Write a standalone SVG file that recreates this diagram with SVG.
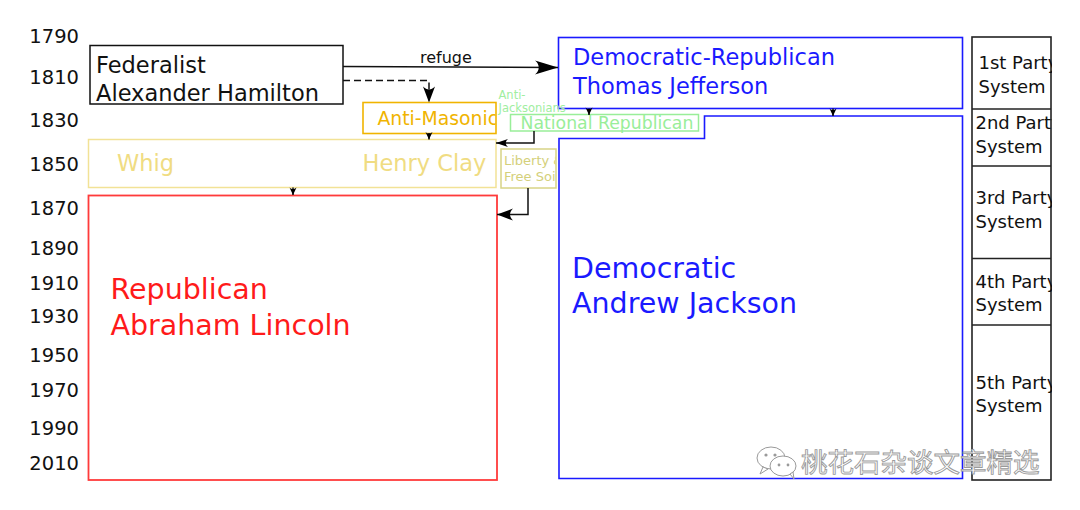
<svg xmlns="http://www.w3.org/2000/svg" width="1080" height="510" viewBox="0 0 1080 510">
<style>
text{font-family:"DejaVu Sans","Liberation Sans",sans-serif}
.yr{font-size:19.5px;fill:#111;text-anchor:end}
.big{font-size:28.5px}
.mid{font-size:22.5px}
.ps{font-size:18px;fill:#111}
.line{fill:none;stroke:#111;stroke-width:1.5}
.wm{font-family:"Noto Sans CJK SC",sans-serif;font-size:26.5px;fill:#fff;stroke:#9a9a9a;stroke-width:0.9}
</style>
<defs>
<marker id="aBig" markerUnits="userSpaceOnUse" viewBox="-24 -8 25 16" markerWidth="25" markerHeight="16" refX="0" refY="0" orient="auto"><path d="M0,0 L-23,-7 C-18,-3 -18,3 -23,7 Z" fill="#000"/></marker>
<marker id="aMed" markerUnits="userSpaceOnUse" viewBox="-17 -7 18 14" markerWidth="18" markerHeight="14" refX="0" refY="0" orient="auto"><path d="M0,0 L-16,-6 C-12,-2 -12,2 -16,6 Z" fill="#000"/></marker>
<marker id="aSm" markerUnits="userSpaceOnUse" viewBox="-13 -5 14 10" markerWidth="14" markerHeight="10" refX="0" refY="0" orient="auto"><path d="M0,0 L-12,-4 C-9,-1.5 -9,1.5 -12,4 Z" fill="#000"/></marker>
<marker id="aTiny" markerUnits="userSpaceOnUse" viewBox="-8 -4 9 8" markerWidth="9" markerHeight="8" refX="0" refY="0" orient="auto"><path d="M0,0 L-7.5,-3.5 C-5.5,-1 -5.5,1 -7.5,3.5 Z" fill="#000"/></marker>
<clipPath id="cAM"><rect x="363" y="102" width="132.5" height="32"/></clipPath>
<clipPath id="cLib"><rect x="501" y="149" width="54.5" height="39"/></clipPath>
<clipPath id="cPS"><rect x="972" y="37" width="80" height="443"/></clipPath>
</defs>

<g id="years">
<text class="yr" x="79" y="43">1790</text>
<text class="yr" x="79" y="84">1810</text>
<text class="yr" x="79" y="127">1830</text>
<text class="yr" x="79" y="171">1850</text>
<text class="yr" x="79" y="215">1870</text>
<text class="yr" x="79" y="255">1890</text>
<text class="yr" x="79" y="290">1910</text>
<text class="yr" x="79" y="323">1930</text>
<text class="yr" x="79" y="362">1950</text>
<text class="yr" x="79" y="397">1970</text>
<text class="yr" x="79" y="435">1990</text>
<text class="yr" x="79" y="470">2010</text>
</g>

<g id="federalist">
<rect x="90" y="45.5" width="253" height="58.5" fill="#fff" stroke="#111" stroke-width="1.5"/>
<text class="mid" x="96" y="72.5" fill="#111">Federalist</text>
<text class="mid" x="96" y="101" fill="#111">Alexander Hamilton</text>
</g>

<g id="democratic-republican">
<rect x="558.5" y="37.5" width="404" height="71" fill="#fff" stroke="#1a1aff" stroke-width="1.6"/>
<text class="mid" x="573" y="65" fill="#1a1aff">Democratic-Republican</text>
<text class="mid" x="573" y="93.5" fill="#1a1aff">Thomas Jefferson</text>
</g>

<g id="anti-masonic">
<rect x="363" y="102.5" width="133" height="31" fill="#fff" stroke="#f0b400" stroke-width="1.6"/>
<text x="377.5" y="125" font-size="18.8" fill="#f0b400" clip-path="url(#cAM)">Anti-Masonic</text>
</g>

<g id="anti-jacksonians">
<text x="498.5" y="99" font-size="11.5" fill="#a0eea0">Anti-</text>
<text x="498.5" y="112" font-size="11.5" fill="#a0eea0">Jacksonians</text>
</g>

<g id="national-republican">
<rect x="510.5" y="114.5" width="188" height="16.5" fill="none" stroke="#99ee99" stroke-width="1.5"/>
<text x="520.5" y="128.5" font-size="17.3" fill="#99ee99">National Republican</text>
</g>

<g id="whig">
<rect x="88.5" y="139.5" width="407.5" height="48" fill="#fff" stroke="#f2e296" stroke-width="1.5"/>
<text class="mid" x="117" y="171" fill="#f0dc82">Whig</text>
<text class="mid" x="362.5" y="171" fill="#f0dc82">Henry Clay</text>
</g>

<g id="liberty-free-soil">
<rect x="501" y="149" width="55" height="39" fill="#fff" stroke="#d8d486" stroke-width="1.5"/>
<g clip-path="url(#cLib)">
<text x="504" y="165" font-size="13" fill="#d4d07a">Liberty &amp;</text>
<text x="504" y="181" font-size="13" fill="#d4d07a">Free Soil</text>
</g>
</g>

<g id="republican">
<rect x="88.5" y="195.5" width="408.5" height="284.5" fill="#fff" stroke="#ff3b3b" stroke-width="1.8"/>
<text class="big" x="110.5" y="299" fill="#ff1a1a">Republican</text>
<text class="big" x="110.5" y="335" fill="#ff1a1a">Abraham Lincoln</text>
</g>

<g id="democratic">
<path d="M559,138.5 H704.5 V116 H962.5 V478.5 H559 Z" fill="#fff" stroke="#1a1aff" stroke-width="1.6"/>
<text class="big" x="572" y="277.5" fill="#1a1aff">Democratic</text>
<text class="big" x="572" y="313" fill="#1a1aff">Andrew Jackson</text>
</g>

<g id="party-systems">
<rect x="972" y="37" width="79" height="443" fill="#fff" stroke="#222" stroke-width="1.6"/>
<line x1="972" y1="109" x2="1051" y2="109" stroke="#222" stroke-width="1.6"/>
<line x1="972" y1="166" x2="1051" y2="166" stroke="#222" stroke-width="1.6"/>
<line x1="972" y1="258.5" x2="1051" y2="258.5" stroke="#222" stroke-width="1.6"/>
<line x1="972" y1="325" x2="1051" y2="325" stroke="#222" stroke-width="1.6"/>
<g clip-path="url(#cPS)">
<text class="ps" x="978.5" y="69">1st Party</text>
<text class="ps" x="978.5" y="92.5">System</text>
<text class="ps" x="975.5" y="129">2nd Party</text>
<text class="ps" x="975.5" y="152.5">System</text>
<text class="ps" x="975.5" y="204">3rd Party</text>
<text class="ps" x="975.5" y="227.5">System</text>
<text class="ps" x="975.5" y="287.5">4th Party</text>
<text class="ps" x="975.5" y="311">System</text>
<text class="ps" x="975.5" y="388.5">5th Party</text>
<text class="ps" x="975.5" y="412">System</text>
</g>
</g>

<g id="connectors">
<line class="line" x1="343" y1="66.5" x2="558" y2="67.5" marker-end="url(#aBig)"/>
<text x="420" y="63" font-size="16" fill="#111">refuge</text>
<path class="line" d="M343,80.5 H429 V102.5" stroke-dasharray="7,4" marker-end="url(#aMed)"/>
<line class="line" x1="429" y1="133" x2="429" y2="139.5" marker-end="url(#aTiny)"/>
<line class="line" x1="589" y1="108.5" x2="589" y2="115" marker-end="url(#aTiny)"/>
<line class="line" x1="833" y1="108.5" x2="833" y2="116" marker-end="url(#aTiny)"/>
<line class="line" x1="293" y1="187.5" x2="293" y2="195" marker-end="url(#aTiny)"/>
<path class="line" d="M534,131 V143 H496" marker-end="url(#aSm)"/>
<path class="line" d="M528,188 V214.5 H497" marker-end="url(#aMed)"/>
</g>

<g id="watermark">
<g fill="#fff" stroke="#9a9a9a" stroke-width="1">
<ellipse cx="771" cy="458" rx="14" ry="11"/>
<path d="M763,467 L760,474 L768,469 Z"/>
<ellipse cx="783" cy="466" rx="13" ry="10"/>
<path d="M790,474 L794,479 L793,472 Z"/>
</g>
<g fill="#9a9a9a">
<circle cx="766" cy="455" r="1.6"/><circle cx="775" cy="455" r="1.6"/>
<circle cx="779" cy="465" r="1.4"/><circle cx="788" cy="465" r="1.4"/>
</g>
<text class="wm" x="801" y="472">桃花石杂谈文章精选</text>
</g>
</svg>
